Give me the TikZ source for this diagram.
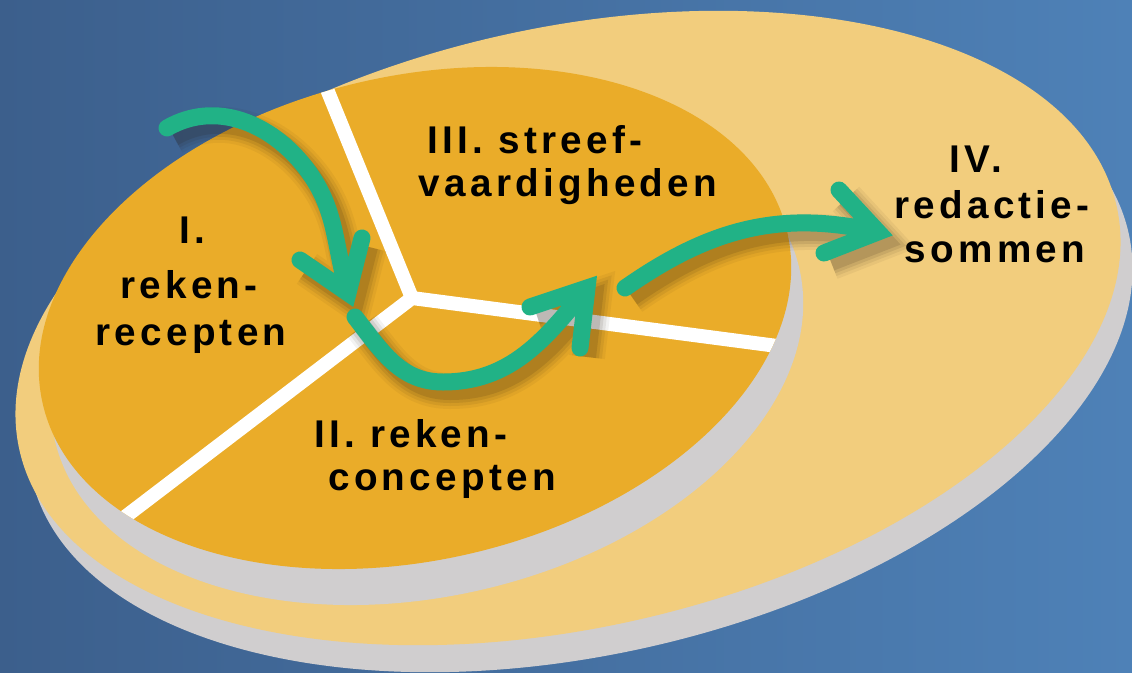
\documentclass[tikz,border=0pt]{standalone}
\usepackage{fontspec}
\newfontfamily\labelfont{Liberation Sans}[LetterSpace=11]
\usetikzlibrary{positioning}
\definecolor{bgdark}{HTML}{3C5F8C}
\definecolor{bglight}{HTML}{4E81B7}
\definecolor{diskouter}{HTML}{F2CD7D}
\definecolor{diskinner}{HTML}{EAAC29}
\definecolor{rimgray}{HTML}{D0CECF}
\definecolor{flowgreen}{HTML}{21B286}
\tikzstyle{sector} = [font=\labelfont\bfseries\fontsize{11}{13}\selectfont, anchor=base, inner sep=0pt]
\tikzstyle{divider} = [draw=white, line width=0.14cm, line join=miter]
\tikzstyle{flow} = [draw=flowgreen, line width=0.17cm, line cap=round, line join=miter,
    preaction={draw=black!80!brown, opacity=0.05, line width=0.36cm, transform canvas={shift={(0.07,-0.09)}}},
    preaction={draw=black!80!brown, opacity=0.07, line width=0.30cm, transform canvas={shift={(0.07,-0.09)}}},
    preaction={draw=black!80!brown, opacity=0.09, line width=0.24cm, transform canvas={shift={(0.07,-0.09)}}},
    preaction={draw=black!80!brown, opacity=0.12, line width=0.18cm, transform canvas={shift={(0.07,-0.09)}}}]

\begin{document}
\begin{tikzpicture}
        \useasboundingbox (0,0) rectangle (11.32,6.72);
        \shade[left color=bgdark, right color=bglight] (0,0) rectangle (11.32,6.72);

        % outer disk with its rim
        \fill[rimgray, rotate around={12.5:(5.80,3.17)}] (5.80,3.17) ellipse [x radius=5.62, y radius=3.00];
        \fill[diskouter, rotate around={12.5:(5.68,3.44)}] (5.68,3.44) ellipse [x radius=5.62, y radius=3.00];

        % inner disk
        \fill[rimgray, rotate around={13:(4.27,3.18)}] (4.27,3.18) ellipse [x radius=3.82, y radius=2.42];
        \fill[diskinner, rotate around={13:(4.15,3.54)}] (4.15,3.54) ellipse [x radius=3.82, y radius=2.42];

        \coordinate (hub) at (4.12,3.74);
        \coordinate (hubTop) at (3.22,5.95);
        \coordinate (hubRight) at (8.00,3.23);
        \coordinate (hubLeft) at (1.00,1.36);
        \begin{scope}
            \clip[rotate around={13:(4.15,3.54)}] (4.15,3.54) ellipse [x radius=3.82, y radius=2.42];
            \draw[divider] (hubTop) -- (hub) -- (hubRight) (hub) -- (hubLeft);
        \end{scope}

        \node[sector] (receptenNum) at (1.92,4.29) {I.};
        \node[sector] (receptenTop) at (1.89,3.74) {reken-};
        \node[sector] (recepten) at (1.91,3.27) {recepten};

        \node[sector] (conceptenTop) at (4.11,2.25) {II. reken-};
        \node[sector] (concepten) at (4.42,1.82) {concepten};

        \node[sector] (streefTop) at (5.35,5.19) {III. streef-};
        \node[sector] (streef) at (5.68,4.76) {vaardigheden};

        \node[sector] (redactieNum) at (9.76,4.99) {IV.};
        \node[sector] (redactieTop) at (9.92,4.54) {redactie-};
        \node[sector] (redactie) at (9.95,4.10) {sommen};

        % flow arrows
        \coordinate (oneStart) at (1.67,5.44);
        \coordinate (oneBend) at (3.05,5.05);
        \coordinate (oneTip) at (3.48,3.79);
        \draw[flow] (oneStart) to[out=30, in=128] (oneBend) to[out=-52, in=106] (oneTip)
            (3.00,4.12) -- (oneTip) -- (3.62,4.34);

        \coordinate (twoStart) at (3.55,3.55);
        \coordinate (twoLow) at (4.43,2.90);
        \coordinate (twoTip) at (5.87,3.84);
        \draw[flow] (twoStart) to[out=-52, in=180] (twoLow) to[out=0, in=231] (twoTip)
            (5.30,3.65) -- (twoTip) -- (5.80,3.24);

        \coordinate (threeStart) at (6.25,3.84);
        \coordinate (threeTip) at (8.78,4.40);
        \draw[flow] (threeStart) to[out=35, in=167] (threeTip)
            (8.39,4.82) -- (threeTip) -- (8.24,4.19);

    \end{tikzpicture}
\end{document}
